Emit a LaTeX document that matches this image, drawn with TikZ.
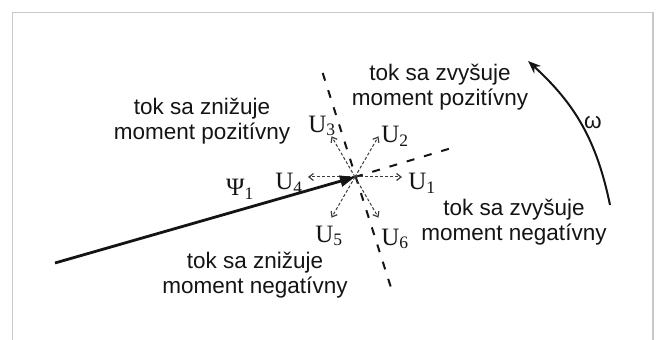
\documentclass[tikz,border=0pt]{standalone}
\usepackage{fontspec}
\setmainfont{Liberation Sans}
\newfontfamily\serifU{Liberation Serif}
\usepackage{xcolor}
\definecolor{FrameGray}{RGB}{200,200,200}
\definecolor{InkBlack}{RGB}{20,20,20}
\definecolor{DashGray}{RGB}{60,60,60}
\usepackage{tikz}
\usetikzlibrary{arrows.meta, positioning, calc}
\tikzset{
  % Region description
  regtext/.style={
    align=center, text=InkBlack, inner sep=0pt,
    font=\fontsize{22.5}{25}\selectfont
  },
  % Voltage vector label
  ulabel/.style={text=InkBlack, inner sep=0pt, font=\fontsize{25}{26}\selectfont\serifU},
  % Arrows
  psiarr/.style={-{Triangle[length=15pt,width=11pt]}, line width=2.8pt, InkBlack},
  warr/.style={-{Stealth[length=13pt,width=10pt]}, line width=2pt, InkBlack},
  uarr/.style={-{Straight Barb[length=4.5pt,width=7pt,line width=1.2pt]}, line width=1pt, DashGray,
    dash pattern=on 3pt off 2pt},
  % Sector border
  sepline/.style={line width=2pt, InkBlack, dash pattern=on 8pt off 10pt},
}

\begin{document}
\begin{tikzpicture}[x=1pt, y=1pt]
  \useasboundingbox (0,0) rectangle (656,340);
  \draw[FrameGray, line width=1.5pt] (12.5,0) |- (653,327.5) -- (653,0);

  \coordinate (C) at (355,163);
  \coordinate (psi0) at (55,77);
  \coordinate (b1) at (322.7,267);
  \coordinate (b2) at (390.7,53.3);
  \coordinate (b3) at (454,192.7);
  \coordinate (w0) at (610,135);
  \coordinate (w1) at (528,279);

  % sector borders
  \draw[sepline] (b1) -- (b2);
  \draw[sepline] (C) -- (b3);

  % voltage vectors
  \foreach \i/\a in {1/0, 2/60, 3/120, 4/180, 5/240, 6/300}
    \coordinate (u\i) at ($(C)+(\a:47)$);
  \foreach \i in {1,...,6}
    \draw[uarr] (C) -- (u\i);

  \node[ulabel] (lu1) at (422,157) {U\textsubscript{1}};
  \node[ulabel] (lu2) at (395,204) {U\textsubscript{2}};
  \node[ulabel] (lu3) at (322,214) {U\textsubscript{3}};
  \node[ulabel] (lu4) at (289,157) {U\textsubscript{4}};
  \node[ulabel] (lu5) at (329,104) {U\textsubscript{5}};
  \node[ulabel] (lu6) at (395,101) {U\textsubscript{6}};

  % flux vector
  \draw[psiarr] (psi0) -- (C);
  \node[ulabel] (lpsi) at (240,151) {Ψ\textsubscript{1}};

  % rotation
  \draw[warr] (w0) to[bend right=18] (w1);
  \node[regtext] (lw) at (593,217) {ω};

  \node[regtext] (zp) at (440,252.5) {tok sa zvyšuje\\moment pozitívny};
  \node[regtext] (np) at (202,219) {tok sa znižuje\\moment pozitívny};
  \node[regtext] (zn) at (514,118) {tok sa zvyšuje\\moment negatívny};
  \node[regtext] (nn) at (255,65) {tok sa znižuje\\moment negatívny};
\end{tikzpicture}
\end{document}
